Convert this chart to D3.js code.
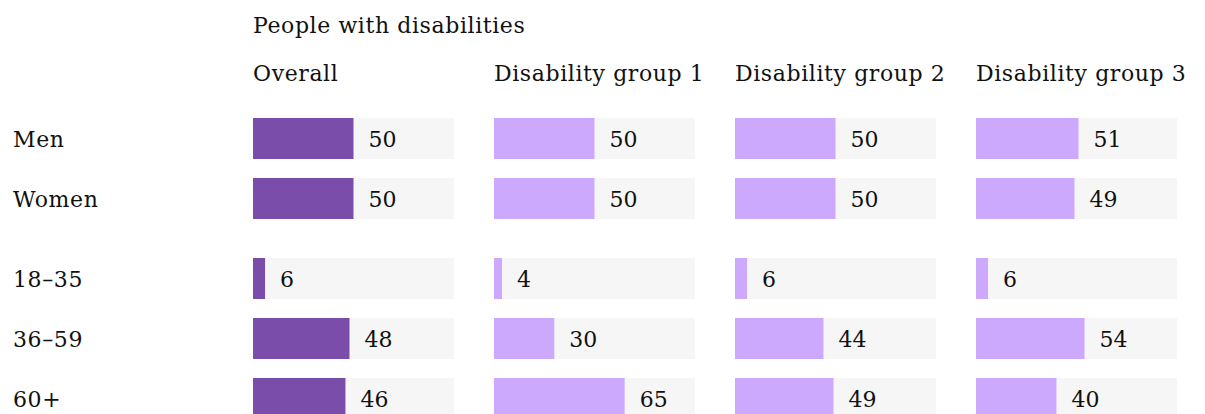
<!DOCTYPE html>
<html>
<head>
<meta charset="utf-8">
<script src="https://cdn.jsdelivr.net/npm/d3@7"></script>
<style>
  body { margin: 0; background: #fff; }
  text { font-family: "DejaVu Serif", "Liberation Serif", serif; fill: #111; }
  .lbl { letter-spacing: 0.6px; }
</style>
</head>
<body>
<div id="chart"></div>
<script>
// Data
const title = "People with disabilities";
const groups = ["Overall", "Disability group 1", "Disability group 2", "Disability group 3"];
const rows = ["Men", "Women", "18–35", "36–59", "60+"];
const overall = [50, 50, 6, 48, 46];
const group1 = [50, 50, 4, 30, 65];
const group2 = [50, 50, 6, 44, 49];
const group3 = [51, 49, 6, 54, 40];
const seriesValues = [overall, group1, group2, group3];

const W = 1205, H = 414;
const svg = d3.select("#chart").append("svg").attr("width", W).attr("height", H);

// panel columns (201px bars, 40px gaps)
const xPanel = d3.scaleBand().domain(groups).range([253, 1177]).paddingInner(40 / 241).paddingOuter(0);
const barW = xPanel.bandwidth();
const x = d3.scaleLinear().domain([0, 100]).range([0, barW]);

// row positions: gap between gender and age blocks
const rowTop = d3.scaleOrdinal().domain(rows).range([118, 178, 258, 318, 378]);
const barH = 41;

const FS = 22;

svg.append("text").attr("class", "lbl").attr("x", 253).attr("y", 33).attr("font-size", FS).text(title);

groups.forEach((grp, gi) => {
  const gx = xPanel(grp);
  svg.append("text").attr("class", "lbl").attr("x", gx).attr("y", 81).attr("font-size", FS).text(grp);

  const g = svg.append("g").attr("transform", `translate(${gx},0)`);
  const color = gi === 0 ? "#7b4dab" : "#cca9fc";

  rows.forEach((r, ri) => {
    const v = seriesValues[gi][ri];
    const y0 = rowTop(r);
    g.append("rect").attr("x", 0).attr("y", y0).attr("width", barW).attr("height", barH).attr("fill", "#f6f6f6");
    g.append("rect").attr("x", 0).attr("y", y0).attr("width", x(v)).attr("height", barH).attr("fill", color);
    g.append("text").attr("x", x(v) + 15).attr("y", y0 + 29).attr("font-size", FS).text(v);
  });
});

rows.forEach(r => {
  svg.append("text").attr("class", "lbl").attr("x", 13).attr("y", rowTop(r) + 29).attr("font-size", FS).text(r);
});
</script>
</body>
</html>
